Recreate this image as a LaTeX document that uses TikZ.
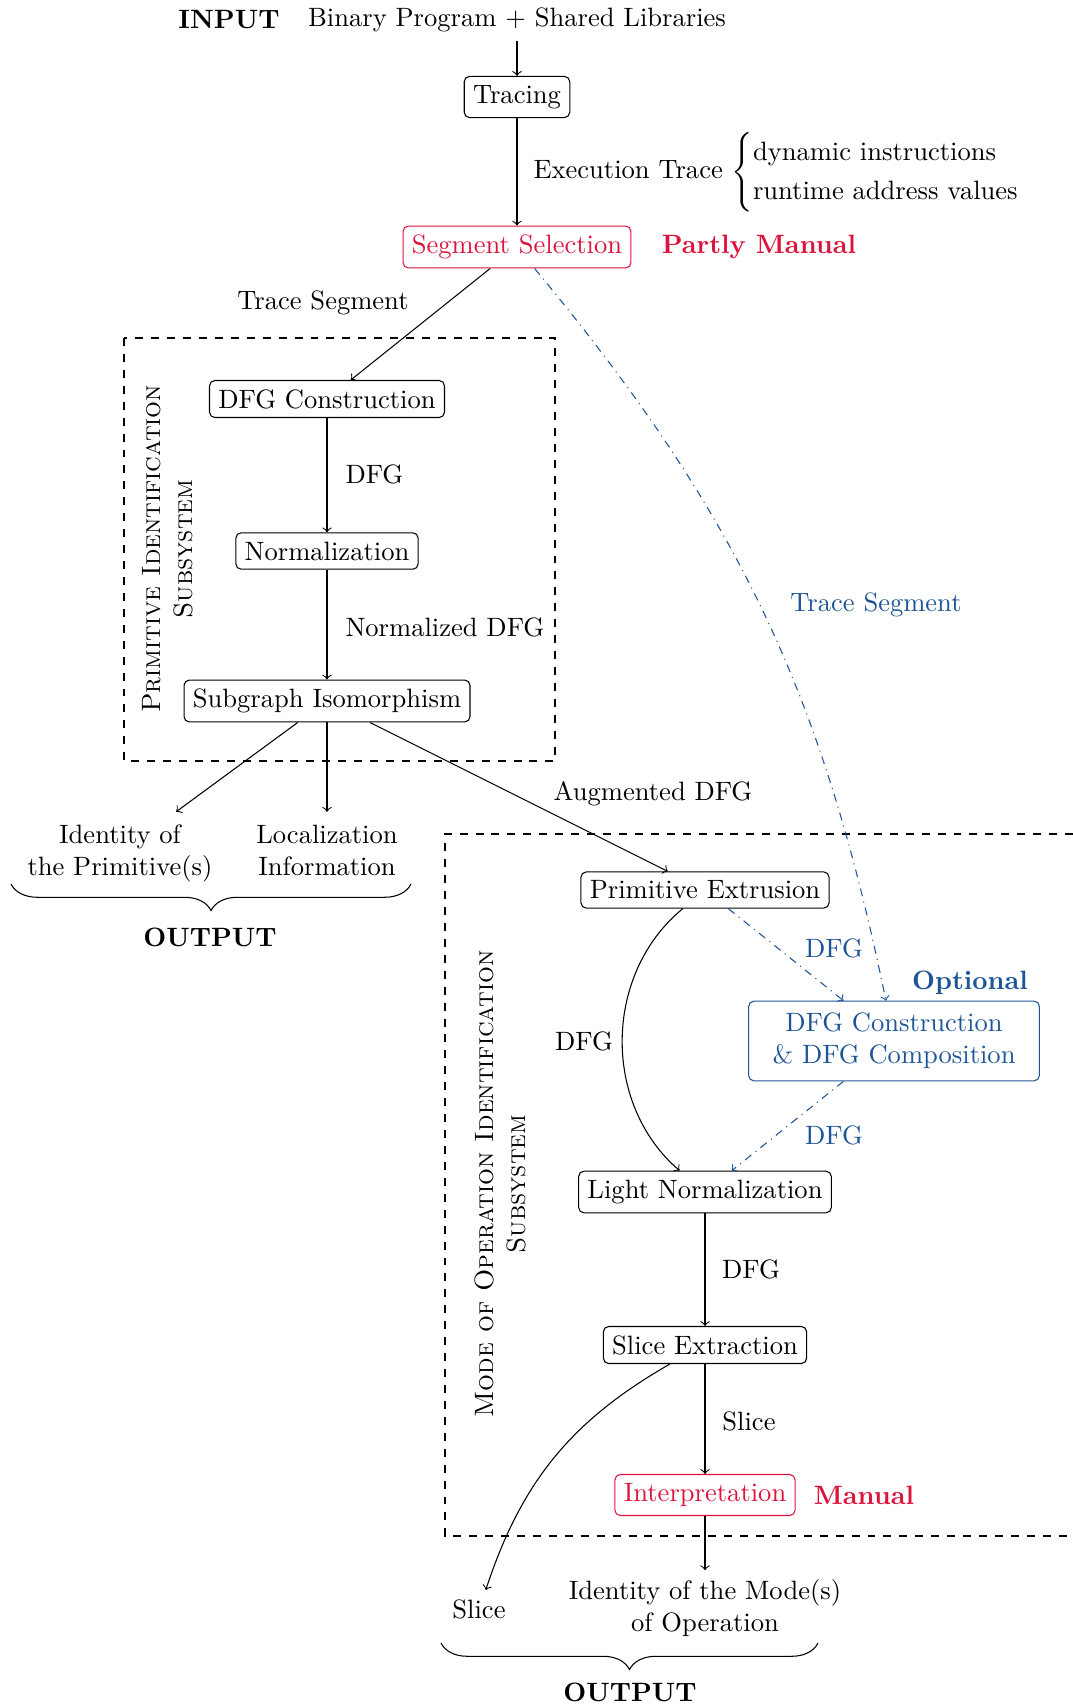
\documentclass[tikz,border=0pt]{standalone}
\usetikzlibrary{decorations.pathreplacing}
\definecolor{mred}{RGB}{220,20,60}
\definecolor{mblue}{RGB}{30,85,150}
\begin{document}
\begin{tikzpicture}[x=0.3766pt,y=0.3766pt,
  box/.style={draw, rounded corners=2pt},
  redbox/.style={box, draw=mred, text=mred},
  bluebox/.style={box, draw=mblue, text=mblue, align=center, inner xsep=9pt, inner ysep=4.5pt},
  arr/.style={->},
  optarr/.style={->, mblue, dash dot},
  lbl/.style={inner sep=0pt},
  bluelbl/.style={lbl, text=mblue},
  tag/.style={lbl, font=\bfseries},
  subsys/.style={dashed},
  sublbl/.style={rotate=90, align=center, font=\scshape},
  outbrace/.style={decorate, decoration={brace, amplitude=10pt}}
]
\useasboundingbox (0,0) rectangle (1073,-1706);

% ---- input and tracing
\node[tag] (input) at (229,-20) {INPUT};
\node (bin) at (517,-20) {Binary Program + Shared Libraries};
\node[box] (tracing) at (517,-97) {Tracing};
\node[redbox] (seg) at (517,-247) {Segment Selection};
\node[tag, text=mred] (partly) at (759,-247) {Partly Manual};
\node[lbl, anchor=west] (exec) at (533,-172)
  {Execution Trace $\left\{\def\arraystretch{1.25}\begin{tabular}{@{}l@{}}dynamic instructions\\ runtime address values\end{tabular}\right.$};

% ---- primitive identification subsystem
\draw[subsys] (124,-338) rectangle (555,-761);
\node[sublbl] (pis) at (168,-549) {Primitive Identification\\Subsystem};
\node[box] (dfgc) at (327,-399) {DFG Construction};
\node[box] (norm) at (327,-551) {Normalization};
\node[box] (sub) at (327,-701) {Subgraph Isomorphism};
\node[lbl] (trseg) at (323,-303) {Trace Segment};
\node[lbl, anchor=west] (ldfg) at (345,-474) {DFG};
\node[lbl, anchor=west] (lndfg) at (345,-627) {Normalized DFG};

% ---- first outputs
\node[align=center] (idprim) at (120,-853) {\strut Identity of\\\strut the Primitive(s)};
\node[align=center] (loc) at (327,-853) {\strut Localization\\\strut Information};
\coordinate (b1r) at (411,-884);
\coordinate (b1l) at (11,-884);
\node[tag] (out1) at (210,-937) {OUTPUT};
\node[lbl] (aug) at (653,-794) {Augmented DFG};

% ---- mode of operation identification subsystem
\draw[subsys] (1073,-834) -- (445,-834) -- (445,-1536) -- (1073,-1536);
\node[sublbl] (mois) at (500,-1184) {Mode of Operation Identification\\Subsystem};
\node[box] (pe) at (705,-890) {Primitive Extrusion};
\node[bluebox] (comp) at (894,-1041) {DFG Construction\\\& DFG Composition};
\node[tag, text=mblue] (opt) at (970,-983) {Optional};
\node[box] (ln) at (705,-1192) {Light Normalization};
\node[box] (se) at (705,-1345) {Slice Extraction};
\node[redbox] (interp) at (705,-1495) {Interpretation};
\node[tag, text=mred] (manual) at (864,-1495) {Manual};
\node[lbl] (ldfg2) at (584,-1041) {DFG};
\node[bluelbl] (bdfg1) at (834,-948) {DFG};
\node[bluelbl] (bdfg2) at (834,-1135) {DFG};
\node[lbl] (ldfg3) at (751,-1269) {DFG};
\node[lbl] (lslice) at (749,-1421) {Slice};
\node[bluelbl] (btrseg) at (876,-605) {Trace Segment};

% ---- second outputs
\node (sliceout) at (479,-1609) {Slice};
\node[align=center] (idmode) at (705,-1608) {Identity of the Mode(s)\\of Operation};
\coordinate (b2r) at (818,-1643);
\coordinate (b2l) at (441,-1643);
\node[tag] (out2) at (630,-1692) {OUTPUT};

% ---- connectors
\draw[arr] (bin) -- (tracing);
\draw[arr] (tracing) -- (seg);
\draw[arr] (seg) -- (dfgc);
\draw[arr] (dfgc) -- (norm);
\draw[arr] (norm) -- (sub);
\draw[arr] (sub) -- (idprim);
\draw[arr] (sub) -- (loc);
\draw[arr] (sub) -- (pe);
\draw[arr] (pe) to[bend right=50] (ln);
\draw[arr] (ln) -- (se);
\draw[arr] (se) -- (interp);
\draw[arr] (interp) -- (idmode);
\draw[arr] (se) to[bend right=21] (sliceout);
\draw[optarr] (seg) to[bend left=14] (comp);
\draw[optarr] (pe) -- (comp);
\draw[optarr] (comp) -- (ln);

% ---- output braces
\draw[outbrace] (b1r) -- (b1l);
\draw[outbrace] (b2r) -- (b2l);
\end{tikzpicture}
\end{document}
